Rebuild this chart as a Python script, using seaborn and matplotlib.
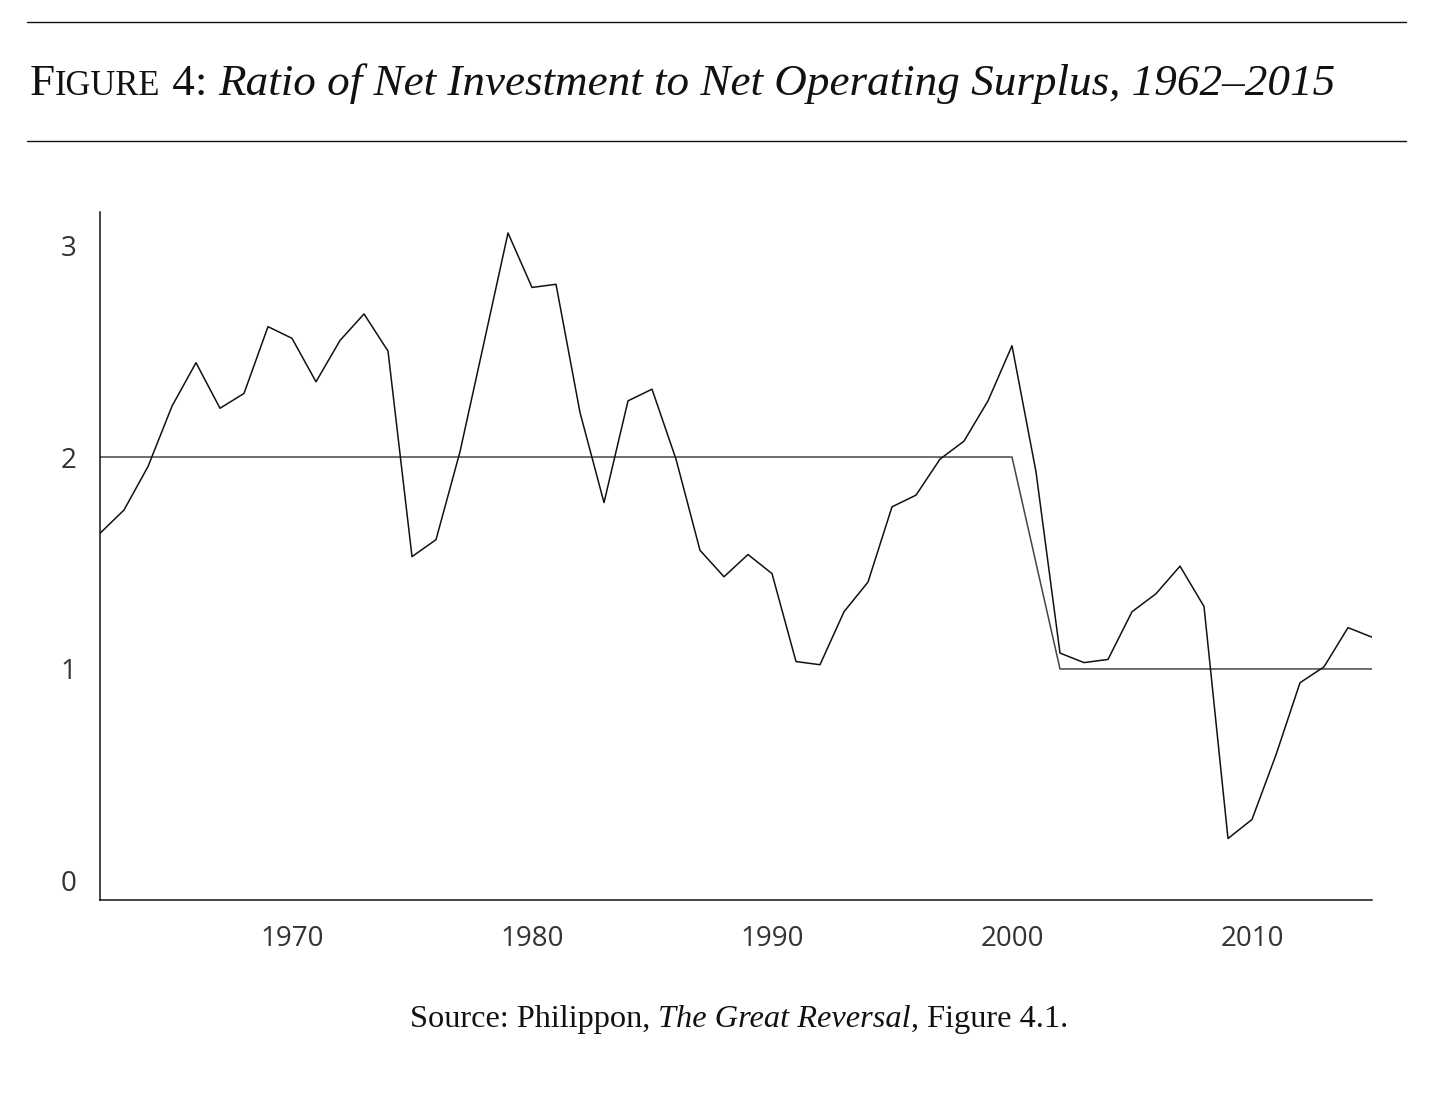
import matplotlib
matplotlib.use("Agg")
import matplotlib.pyplot as plt
import seaborn as sns
import pandas as pd
from matplotlib.lines import Line2D

years = list(range(1962, 2016))
ratio = [1.64, 1.75, 1.955, 2.24, 2.445, 2.23, 2.30, 2.615, 2.56, 2.355,
         2.55, 2.675, 2.50, 1.53, 1.61, 2.025, 2.54, 3.057, 2.80, 2.815,
         2.21, 1.785, 2.265, 2.32, 1.99, 1.56, 1.435, 1.54, 1.45, 1.035,
         1.02, 1.27, 1.41, 1.765, 1.82, 1.99, 2.075, 2.265, 2.525, 1.93,
         1.075, 1.03, 1.045, 1.27, 1.355, 1.485, 1.295, 0.20, 0.29, 0.595,
         0.935, 1.01, 1.195, 1.15]
step_years = [1962, 2000, 2002, 2015]
step_values = [2, 2, 1, 1]
x_ticks = [1970, 1980, 1990, 2000, 2010]
y_ticks = [0, 1, 2, 3]

title_sc_big = "F"
title_sc_small = "IGURE"
title_num = " 4: "
title_italic = "Ratio of Net Investment to Net Operating Surplus, 1962–2015"
source_roman1 = "Source: Philippon, "
source_italic = "The Great Reversal"
source_roman2 = ", Figure 4.1."

df = pd.DataFrame({"year": years, "ratio": ratio})
df_step = pd.DataFrame({"year": step_years, "value": step_values})

sns.set_style("white")
plt.rcParams["font.family"] = ["Open Sans", "DejaVu Sans"]

W, H = 1435, 1099
fig = plt.figure(figsize=(W / 100, H / 100), dpi=100)
ax = fig.add_axes([100 / W, 1 - 900 / H, (1372 - 100) / W, (900 - 212) / H])

sns.lineplot(data=df_step, x="year", y="value", ax=ax, color="#444444", linewidth=1.1)
sns.lineplot(data=df, x="year", y="ratio", ax=ax, color="#111111", linewidth=1.1)

ax.set_xlim(1962, 2015)
ax.set_ylim(-0.09, 3.156)
ax.set_xticks(x_ticks)
ax.set_yticks(y_ticks)
ax.set_xticklabels([str(t) for t in x_ticks])
ax.set_yticklabels([str(t) for t in y_ticks])
ax.tick_params(axis="both", length=0, labelsize=20, colors="#333333")
ax.tick_params(axis="x", pad=18)
ax.tick_params(axis="y", pad=17)
ax.set_xlabel("")
ax.set_ylabel("")
for s in ["top", "right"]:
    ax.spines[s].set_visible(False)
for s in ["left", "bottom"]:
    ax.spines[s].set_color("#111111")
    ax.spines[s].set_linewidth(1.1)

# horizontal rules
for yp in [22, 141]:
    fig.add_artist(Line2D([27 / W, 1406 / W], [1 - yp / H, 1 - yp / H],
                          color="#111111", linewidth=1.0, transform=fig.transFigure))

serif = ["Liberation Serif", "DejaVu Serif"]
fig.canvas.draw()
renderer = fig.canvas.get_renderer()


def place_sequence(pieces, x0_px, baseline_px):
    x = x0_px
    arts = []
    for txt, size, style in pieces:
        t = fig.text(x / W, 1 - baseline_px / H, txt, fontsize=size, style=style,
                     family=serif, color="#111111", va="baseline", ha="left")
        bb = t.get_window_extent(renderer=renderer)
        x += bb.width
        arts.append(t)
    return arts, x - x0_px


title_pieces = [(title_sc_big, 30, "normal"), (title_sc_small, 23, "normal"),
                (title_num, 30, "normal"), (title_italic, 30, "italic")]
arts, width = place_sequence(title_pieces, 30, 95)
for a in arts:
    a.remove()
scale = 1305 / width
title_pieces = [(t, s * scale, st) for t, s, st in title_pieces]
place_sequence(title_pieces, 30, 95)

src_pieces = [(source_roman1, 22, "normal"), (source_italic, 22, "italic"),
              (source_roman2, 22, "normal")]
arts, width = place_sequence(src_pieces, 410, 1027)
for a in arts:
    a.remove()
scale = 658 / width
src_pieces = [(t, s * scale, st) for t, s, st in src_pieces]
place_sequence(src_pieces, 410, 1027)

fig.savefig("out.png", dpi=100, facecolor="white")
